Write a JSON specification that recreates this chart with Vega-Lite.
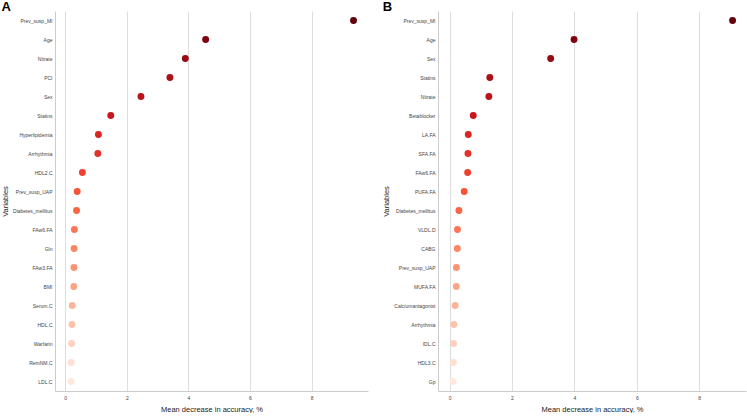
{
  "$schema": "https://vega.github.io/schema/vega-lite/v6.json",
  "padding": {"left": 1, "top": 1, "right": 2, "bottom": 0},
  "spacing": 14,
  "background": "white",
  "config": {
    "font": "Liberation Sans",
    "view": {"stroke": null},
    "axisY": {"grid": false, "ticks": false, "domainColor": "#cccccc", "labelFontSize": 5, "labelColor": "#444444", "labelPadding": 3, "titleFontSize": 7.5, "titleFontWeight": "normal", "titlePadding": 3, "titleColor": "#222222"},
    "axisX": {"grid": true, "gridColor": "#dddddd", "ticks": false, "domainColor": "#cccccc", "labelFontSize": 5, "labelColor": "#444444", "labelPadding": 4, "titleFontSize": 7.5, "titleFontWeight": "normal", "titlePadding": 5, "titleColor": "#222222"},
    "title": {"fontSize": 13, "fontWeight": "bold", "anchor": "start", "frame": "bounds", "offset": -3, "color": "#000000"}
  },
  "datasets": {
    "A": [
      {"variable": "Prev_susp_MI", "importance": 9.36},
      {"variable": "Age", "importance": 4.56},
      {"variable": "Nitrate", "importance": 3.90},
      {"variable": "PCI", "importance": 3.40},
      {"variable": "Sex", "importance": 2.46},
      {"variable": "Statins", "importance": 1.48},
      {"variable": "Hyperlipidemia", "importance": 1.08},
      {"variable": "Arrhythmia", "importance": 1.06},
      {"variable": "HDL2.C", "importance": 0.56},
      {"variable": "Prev_susp_UAP", "importance": 0.39},
      {"variable": "Diabetes_mellitus", "importance": 0.37},
      {"variable": "FAw6.FA", "importance": 0.30},
      {"variable": "Gln", "importance": 0.29},
      {"variable": "FAw3.FA", "importance": 0.285},
      {"variable": "BMI", "importance": 0.28},
      {"variable": "Serum.C", "importance": 0.23},
      {"variable": "HDL.C", "importance": 0.22},
      {"variable": "Warfarin", "importance": 0.21},
      {"variable": "RemNM.C", "importance": 0.195},
      {"variable": "LDL.C", "importance": 0.19}
    ],
    "B": [
      {"variable": "Prev_susp_MI", "importance": 9.07},
      {"variable": "Age", "importance": 3.99},
      {"variable": "Sex", "importance": 3.24},
      {"variable": "Statins", "importance": 1.29},
      {"variable": "Nitrate", "importance": 1.26},
      {"variable": "Betablocker", "importance": 0.76},
      {"variable": "LA.FA", "importance": 0.60},
      {"variable": "SFA.FA", "importance": 0.59},
      {"variable": "FAw6.FA", "importance": 0.58},
      {"variable": "PUFA.FA", "importance": 0.47},
      {"variable": "Diabetes_mellitus", "importance": 0.30},
      {"variable": "VLDL.D", "importance": 0.255},
      {"variable": "CABG", "importance": 0.25},
      {"variable": "Prev_susp_UAP", "importance": 0.22},
      {"variable": "MUFA.FA", "importance": 0.215},
      {"variable": "Calciumantagonist", "importance": 0.18},
      {"variable": "Arrhythmia", "importance": 0.14},
      {"variable": "IDL.C", "importance": 0.13},
      {"variable": "HDL3.C", "importance": 0.12},
      {"variable": "Gp", "importance": 0.115}
    ]
  },
  "hconcat": [
    {
      "width": 313,
      "height": 380,
      "title": {"text": "A"},
      "data": {"name": "A"},
      "transform": [{"window": [{"op": "row_number", "as": "rank"}]}],
      "mark": {"type": "circle", "size": 48, "opacity": 1},
      "encoding": {
        "y": {"field": "variable", "type": "nominal", "sort": null, "scale": {"type": "point", "padding": 0.5}, "axis": {"title": "Variables"}},
        "x": {"field": "importance", "type": "quantitative", "scale": {"domain": [-0.33, 9.83], "nice": false, "zero": false}, "axis": {"values": [0, 2, 4, 6, 8], "title": "Mean decrease in accuracy, %"}},
        "color": {"field": "rank", "type": "quantitative", "scale": {"domain": [1, 3.575, 6.15, 8.725, 11.3, 13.875, 16.45, 19.025, 21.6], "range": ["#67000d", "#a50f15", "#cb181d", "#ef3b2c", "#fb6a4a", "#fc9272", "#fcbba1", "#fee0d2", "#fff5f0"]}, "legend": null}
      }
    },
    {
      "width": 308,
      "height": 380,
      "title": {"text": "B"},
      "data": {"name": "B"},
      "transform": [{"window": [{"op": "row_number", "as": "rank"}]}],
      "mark": {"type": "circle", "size": 48, "opacity": 1},
      "encoding": {
        "y": {"field": "variable", "type": "nominal", "sort": null, "scale": {"type": "point", "padding": 0.5}, "axis": {"title": "Variables"}},
        "x": {"field": "importance", "type": "quantitative", "scale": {"domain": [-0.37, 9.5], "nice": false, "zero": false}, "axis": {"values": [0, 2, 4, 6, 8], "title": "Mean decrease in accuracy, %"}},
        "color": {"field": "rank", "type": "quantitative", "scale": {"domain": [1, 3.575, 6.15, 8.725, 11.3, 13.875, 16.45, 19.025, 21.6], "range": ["#67000d", "#a50f15", "#cb181d", "#ef3b2c", "#fb6a4a", "#fc9272", "#fcbba1", "#fee0d2", "#fff5f0"]}, "legend": null}
      }
    }
  ],
  "resolve": {"scale": {"color": "independent", "x": "independent", "y": "independent"}}
}
